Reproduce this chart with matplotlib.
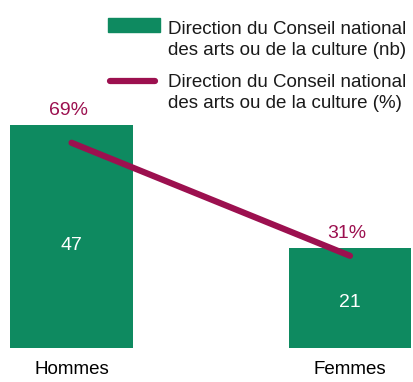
import numpy as np
import matplotlib.pyplot as plt
from matplotlib.patches import Rectangle
from matplotlib.lines import Line2D

categories = ['Hommes', 'Femmes']
counts = [47, 21]
shares = [69, 31]
legend_labels = ['Direction du Conseil national\ndes arts ou de la culture (nb)',
                 'Direction du Conseil national\ndes arts ou de la culture (%)']

green = '#0e8a60'
purple = '#9c104f'

plt.rcParams['font.family'] = ['Liberation Sans', 'DejaVu Sans']

W, H = 414, 382
fig = plt.figure(figsize=(W / 100, H / 100), dpi=100)
ax = fig.add_axes([0, 34 / H, 1, 348 / H])
ax2 = ax.twinx()

x = np.arange(len(categories))
ax.bar(x, counts, width=0.44, color=green)
ax.set_xlim(-0.257, 1.23)
ax.set_ylim(0, 73.3)
ax2.set_ylim(0, 117)

# counts inside the bars
for xi, v in zip(x, counts):
    ax.text(xi, v * 0.46, str(v), ha='center', va='center', color='white', fontsize=14)

# share line, labels sit a little above each bar
ax2.plot(x, shares, color=purple, lw=4.5, solid_capstyle='round')
for xi, v, s in zip(x, counts, shares):
    ax.annotate(f'{s}%', xy=(xi, v), xytext=(-2, 10.5), textcoords='offset points',
                ha='center', va='center', color=purple, fontsize=14)

for a in (ax, ax2):
    for sp in a.spines.values():
        sp.set_visible(False)
    a.set_yticks([])
ax.set_xticks(x)
ax.set_xticklabels(categories, fontsize=13.5)
ax.tick_params(axis='x', length=0, pad=9)

# legend drawn by hand so the keys line up with the first text line
fig.patches.append(Rectangle((108 / W, 1 - 32 / H), 52 / W, 14 / H,
                             transform=fig.transFigure, color=green))
fig.lines.append(Line2D([110 / W, 155 / W], [1 - 81 / H, 1 - 81 / H],
                        transform=fig.transFigure, color=purple, lw=4.5,
                        solid_capstyle='round'))
for yb, lab in zip([55, 108], legend_labels):
    fig.text(168 / W, 1 - yb / H, lab, ha='left', va='baseline', fontsize=13.5,
             linespacing=1.3, color='#1a1a1a')

fig.savefig('out.png', dpi=100)
